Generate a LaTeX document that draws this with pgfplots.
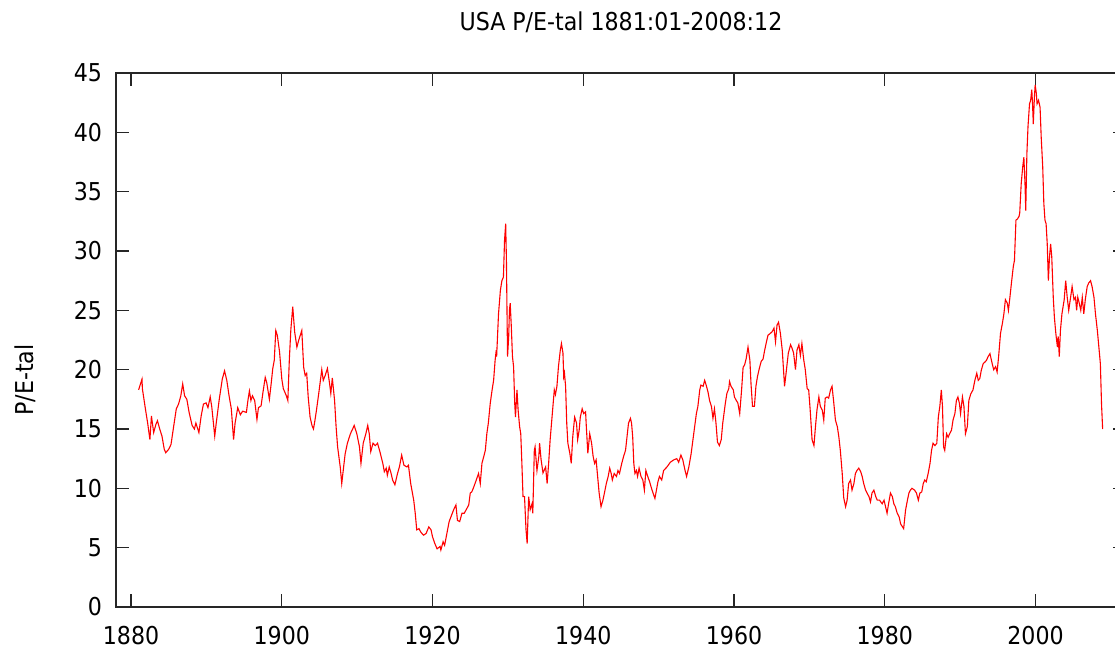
\documentclass[border=0pt]{standalone}
\usepackage{pgfplots}
\pgfplotsset{compat=1.18}
\usepackage{fontspec}
\setmainfont{DejaVu Sans Condensed}
\begin{document}
\begin{tikzpicture}
\begin{axis}[
  scale only axis,
  width=505pt, height=267pt,
  xmin=1878, xmax=2012, ymin=0, ymax=45,
  xtick={1880,1900,...,2000},
  ytick={0,5,...,45},
  major tick length=6.5pt,
  tick style={black!85, line width=0.6pt},
  axis line style={black!85, line width=0.75pt},
  /pgf/number format/assume math mode=true,
  /pgf/number format/1000 sep={},
  tick label style={font=\fontsize{12.3}{14}\selectfont},
  xticklabel style={yshift=-6pt},
  yticklabel style={xshift=-3.5pt},
  title={USA P/E-tal 1881:01-2008:12},
  title style={font=\fontsize{12.3}{14}\selectfont, at={(axis description cs:0.5,1)}, anchor=center, yshift=19.5pt},
  ylabel={P/E-tal},
  ylabel style={font=\fontsize{12.3}{14}\selectfont, at={(axis description cs:-0.09,0.425)}, anchor=center},
]
\addplot[red, line width=0.55pt] coordinates {
(1881.0,18.3) (1881.45,19.2) (1881.5,18.4) (1881.9,16.7) (1882.2,15.5) (1882.5,14.1) (1882.7,16.1) (1883.0,14.7) (1883.3,15.4) (1883.5,15.7) (1883.8,15.0) (1884.1,14.4) (1884.4,13.3) (1884.6,13.0) (1885.0,13.3) (1885.3,13.7) (1885.6,15.0) (1886.0,16.7) (1886.3,17.1) (1886.6,17.8) (1886.85,18.8) (1887.1,17.8) (1887.4,17.5) (1887.7,16.4) (1888.1,15.3) (1888.4,15.0) (1888.6,15.5) (1889.0,14.7) (1889.3,16.1) (1889.6,17.1) (1889.95,17.2) (1890.2,16.8) (1890.5,17.7) (1890.7,16.9) (1891.1,14.4) (1891.3,15.5) (1891.7,17.5) (1892.1,19.2) (1892.4,19.9) (1892.7,19.1) (1893.0,17.8) (1893.3,16.7) (1893.6,14.1) (1893.8,15.5) (1894.15,16.8) (1894.5,16.2) (1894.8,16.5) (1895.3,16.4) (1895.5,17.4) (1895.7,18.2) (1895.9,17.4) (1896.1,17.8) (1896.4,17.4) (1896.7,15.8) (1896.9,16.8) (1897.25,16.95) (1897.5,18.1) (1897.8,19.35) (1898.0,18.9) (1898.35,17.5) (1898.6,18.9) (1898.8,20.1) (1899.0,20.8) (1899.2,23.3) (1899.4,22.9) (1899.7,21.5) (1900.0,19.2) (1900.2,18.4) (1900.6,17.8) (1900.8,17.4) (1901.0,20.9) (1901.2,23.4) (1901.45,25.3) (1901.7,23.2) (1902.0,21.9) (1902.25,22.5)
(1902.65,23.3) (1902.9,20.2) (1903.1,19.5) (1903.3,19.7) (1903.5,17.7) (1903.75,16.0) (1904.0,15.3) (1904.2,15.0) (1904.4,15.75) (1904.6,16.6) (1904.9,18.0) (1905.1,19.0) (1905.3,20.0) (1905.5,19.1) (1905.75,19.5) (1906.05,20.1) (1906.3,19.0) (1906.5,18.0) (1906.7,19.3) (1907.0,17.4) (1907.2,15.2) (1907.4,13.5) (1907.75,11.8) (1907.95,10.4) (1908.2,11.8) (1908.4,12.9) (1908.7,13.8) (1909.1,14.6) (1909.4,15.0) (1909.6,15.3) (1909.95,14.6) (1910.3,13.5) (1910.5,12.1) (1910.8,13.8) (1911.15,14.6) (1911.4,15.3) (1911.6,14.6) (1911.8,13.1) (1912.1,13.8) (1912.4,13.6) (1912.7,13.8) (1913.05,13.0) (1913.4,12.1) (1913.6,11.4) (1913.85,11.7) (1914.0,11.1) (1914.25,11.8) (1914.5,11.25) (1914.7,10.7) (1915.0,10.3) (1915.35,11.25) (1915.6,11.8) (1915.9,12.8) (1916.2,11.95) (1916.6,11.8) (1916.8,11.95) (1917.1,10.4) (1917.5,9.0) (1917.7,7.9) (1917.9,6.5) (1918.2,6.6) (1918.45,6.3) (1918.8,6.05) (1919.15,6.2) (1919.5,6.75) (1919.8,6.5) (1920.0,5.9) (1920.3,5.35) (1920.6,4.9) (1921.0,5.1) (1921.1,4.8) (1921.4,5.5) (1921.6,5.2) (1921.9,6.2) (1922.2,7.2) (1922.5,7.7) (1922.8,8.2) (1923.1,8.6) (1923.3,7.3) (1923.6,7.2) (1923.9,7.9) (1924.2,7.9) (1924.55,8.3) (1924.8,8.6) (1925.0,9.6) (1925.2,9.7) (1925.4,10.0) (1925.8,10.7) (1926.1,11.25)
(1926.33,10.4) (1926.55,12.1) (1926.8,12.7) (1927.0,13.2) (1927.2,14.6) (1927.4,15.5) (1927.65,17.15) (1927.9,18.3) (1928.1,19.1) (1928.3,20.8) (1928.45,21.65) (1928.5,21.1) (1928.75,24.7) (1929.0,26.7) (1929.2,27.5) (1929.4,27.8) (1929.55,30.9) (1929.7,32.3) (1929.8,29.2) (1929.9,23.6) (1929.95,21.1) (1930.1,22.8) (1930.2,25.0) (1930.3,25.6) (1930.45,23.6) (1930.6,21.1) (1930.75,20.25) (1930.9,17.15) (1931.0,16.0) (1931.2,18.3) (1931.35,16.6) (1931.55,15.2) (1931.7,14.6) (1931.85,12.1) (1932.0,9.3) (1932.2,9.3) (1932.4,6.5) (1932.55,5.35) (1932.75,9.3) (1932.95,8.2) (1933.2,8.7) (1933.3,7.9) (1933.5,13.2) (1933.6,13.5) (1933.85,11.5) (1934.1,12.7) (1934.2,13.8) (1934.4,12.4) (1934.65,11.3) (1935.0,11.8) (1935.2,10.4) (1935.4,12.1) (1935.6,14.1) (1935.85,16.0) (1936.15,18.3) (1936.3,17.9) (1936.5,18.6) (1936.7,20.25) (1936.95,21.65) (1937.1,22.2) (1937.3,21.4) (1937.4,19.4) (1937.5,19.7) (1937.65,18.6) (1937.8,15.5) (1937.95,13.8) (1938.2,13.0) (1938.4,12.1) (1938.6,14.35) (1938.85,16.0) (1939.1,15.5) (1939.25,14.1) (1939.45,14.9) (1939.6,16.0) (1939.85,16.7) (1940.05,16.3) (1940.3,16.45) (1940.4,15.2) (1940.6,12.95) (1940.85,14.6) (1941.1,13.8) (1941.3,12.7) (1941.5,12.1) (1941.7,12.4) (1941.9,11.0) (1942.1,9.6) (1942.35,8.45) (1942.6,9.0) (1942.8,9.6) (1943.05,10.4) (1943.3,11.0) (1943.5,11.7) (1943.7,11.25) (1943.85,10.7) (1944.1,11.25) (1944.4,11.0) (1944.6,11.5) (1944.8,11.25) (1945.1,12.1) (1945.35,12.7) (1945.6,13.2) (1945.8,14.35) (1946.0,15.5) (1946.25,15.9) (1946.4,15.5) (1946.55,14.35) (1946.7,12.1) (1946.85,11.25) (1947.05,11.5) (1947.2,11.0) (1947.4,11.7) (1947.65,11.0) (1947.9,10.7) (1948.1,9.85) (1948.3,11.5) (1948.55,11.0) (1948.8,10.55) (1949.0,10.1) (1949.25,9.6) (1949.5,9.15) (1949.7,9.85) (1949.9,10.55) (1950.1,11.0)
(1950.4,10.7) (1950.65,11.5) (1951.1,11.8) (1951.55,12.2) (1952.0,12.4) (1952.4,12.5) (1952.65,12.2) (1952.95,12.8) (1953.2,12.4) (1953.5,11.5) (1953.7,11.0) (1954.0,11.8) (1954.3,12.9) (1954.65,14.6) (1955.0,16.3) (1955.2,16.9) (1955.45,18.3) (1955.6,18.7) (1955.9,18.6) (1956.1,19.1) (1956.3,18.7) (1956.55,18.1) (1956.75,17.4) (1957.0,16.9) (1957.2,15.9) (1957.4,16.7) (1957.6,15.5) (1957.8,13.9) (1958.05,13.6) (1958.3,14.1) (1958.5,15.5) (1958.85,17.2) (1959.05,18.0) (1959.3,18.4) (1959.4,19.0) (1959.6,18.6) (1959.9,18.3) (1960.05,17.7) (1960.3,17.4) (1960.5,17.2) (1960.75,16.3) (1961.0,18.3) (1961.2,20.2) (1961.4,20.4) (1961.6,20.9) (1961.85,21.9) (1962.1,20.8) (1962.25,18.8) (1962.45,16.9) (1962.7,16.9) (1962.9,18.6) (1963.1,19.4) (1963.35,20.1) (1963.6,20.7) (1963.85,20.9) (1964.05,21.6) (1964.3,22.35) (1964.5,22.9) (1964.8,23.05) (1965.05,23.2) (1965.3,23.5) (1965.5,22.35) (1965.7,23.75) (1965.9,24.0) (1966.15,23.05) (1966.4,21.6) (1966.7,18.6) (1966.9,19.7) (1967.2,21.4) (1967.5,22.1) (1967.7,21.8) (1967.9,21.4) (1968.15,20.0) (1968.35,21.65) (1968.6,22.1) (1968.8,21.2) (1969.0,22.2) (1969.25,20.8) (1969.45,20.0) (1969.7,18.4) (1969.9,18.3) (1970.1,16.6) (1970.35,14.1) (1970.6,13.6) (1970.8,15.2) (1971.0,16.6) (1971.25,17.7) (1971.45,16.9) (1971.7,16.6) (1971.9,15.75) (1972.1,17.6) (1972.35,17.7) (1972.55,17.6) (1972.8,18.3) (1973.0,18.6) (1973.2,17.4) (1973.45,15.75) (1973.7,15.2) (1973.9,14.35) (1974.1,13.2)
(1974.35,11.25) (1974.55,9.2) (1974.8,8.45) (1975.0,9.0) (1975.2,10.4) (1975.45,10.7) (1975.65,9.85) (1975.9,10.4) (1976.1,11.25) (1976.3,11.5) (1976.55,11.7) (1976.8,11.4) (1977.0,11.0) (1977.2,10.4) (1977.45,9.85) (1977.65,9.6) (1977.9,9.3) (1978.1,8.85) (1978.3,9.6) (1978.55,9.85) (1978.8,9.3) (1979.0,9.0) (1979.3,9.0) (1979.65,8.7) (1979.9,9.0) (1980.1,8.45) (1980.3,7.9) (1980.5,8.7) (1980.75,9.6) (1981.0,9.3) (1981.2,8.7) (1981.4,8.45) (1981.65,7.9) (1981.9,7.6) (1982.1,7.0) (1982.35,6.75) (1982.5,6.6) (1982.75,8.15) (1983.0,9.0) (1983.2,9.6) (1983.4,9.85) (1983.6,10.0) (1983.95,9.85) (1984.2,9.6) (1984.45,9.0) (1984.65,9.6) (1984.9,9.7) (1985.1,10.4) (1985.3,10.7) (1985.5,10.55) (1985.75,11.25) (1986.0,12.1) (1986.2,13.2) (1986.4,13.8) (1986.65,13.6) (1986.9,13.8) (1987.1,16.0) (1987.3,16.9) (1987.5,18.3) (1987.65,16.9) (1987.8,13.5) (1987.95,13.2) (1988.2,14.6) (1988.4,14.3) (1988.6,14.6) (1988.85,14.9) (1989.05,15.75) (1989.3,16.3) (1989.5,17.4) (1989.7,17.7) (1989.9,17.15) (1990.05,16.3) (1990.3,17.7) (1990.5,16.9) (1990.7,14.6) (1990.95,15.2) (1991.15,17.4) (1991.4,17.95) (1991.7,18.3) (1991.95,19.1) (1992.2,19.7) (1992.4,19.1) (1992.6,19.25) (1992.8,19.95) (1993.05,20.5) (1993.3,20.65) (1993.5,20.8) (1993.7,21.1) (1993.95,21.35)
(1994.25,20.5) (1994.45,20.0) (1994.7,20.25) (1994.9,19.8) (1995.1,21.1) (1995.35,23.05) (1995.6,23.9) (1995.8,24.7) (1996.0,25.9) (1996.25,25.6) (1996.4,25.0) (1996.6,26.1) (1996.8,27.3) (1997.05,28.7) (1997.2,29.2) (1997.4,32.6) (1997.6,32.7) (1997.8,32.9) (1997.9,33.2) (1998.1,35.7) (1998.3,37.1) (1998.45,37.9) (1998.6,35.7) (1998.7,33.4) (1998.85,38.2) (1999.0,40.5) (1999.2,42.4) (1999.35,42.7) (1999.5,43.6) (1999.6,42.4) (1999.7,40.7) (1999.85,43.0) (1999.95,44.0) (2000.1,43.3) (2000.2,42.4) (2000.4,42.7) (2000.6,42.1) (2000.75,39.6) (2000.95,37.1) (2001.1,34.0) (2001.25,32.6) (2001.4,32.3) (2001.55,30.6) (2001.7,27.5) (2001.85,29.5) (2002.0,30.6) (2002.15,29.5) (2002.35,26.1) (2002.5,24.4) (2002.7,23.0) (2002.9,21.9) (2003.0,22.8) (2003.15,21.1) (2003.3,23.3) (2003.5,24.7) (2003.8,25.9) (2004.0,27.5) (2004.2,26.1) (2004.4,25.0) (2004.65,26.1) (2004.85,27.0) (2005.1,25.9) (2005.3,26.1) (2005.45,25.0) (2005.6,26.1) (2005.8,25.6) (2006.0,25.0) (2006.2,26.1) (2006.4,24.7) (2006.6,25.9) (2006.85,27.0) (2007.05,27.3) (2007.3,27.5) (2007.5,27.0) (2007.75,26.1) (2007.95,24.7) (2008.2,23.3) (2008.4,21.9) (2008.6,20.5) (2008.75,17.15) (2008.9,15.0)
};
\end{axis}
\pgfresetboundingbox
\path (-58pt,-22.5pt) rectangle (499.5pt,303.5pt);
\end{tikzpicture}
\end{document}
